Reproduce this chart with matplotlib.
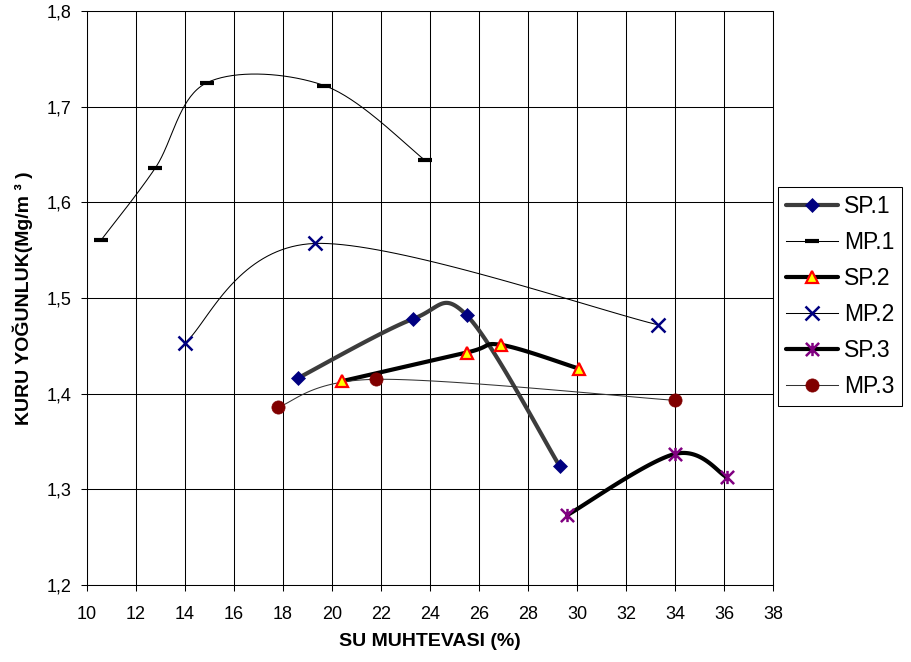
import numpy as np
import matplotlib
matplotlib.use('Agg')
import matplotlib.pyplot as plt
from matplotlib.lines import Line2D
from matplotlib.path import Path
from matplotlib.ticker import FuncFormatter

plt.rcParams['font.family'] = ['Liberation Sans', 'DejaVu Sans']

# su muhtevasi (%) / kuru yogunluk (Mg/m3)
sp1_x = [18.6, 23.3, 25.5, 29.3]
sp1_y = [1.416, 1.478, 1.482, 1.324]
mp1_x = [10.6, 12.8, 14.9, 19.7, 23.8]
mp1_y = [1.561, 1.636, 1.725, 1.722, 1.644]
sp2_x = [20.4, 25.5, 26.9, 30.1]
sp2_y = [1.413, 1.443, 1.451, 1.426]
mp2_x = [14.0, 19.3, 33.3]
mp2_y = [1.453, 1.557, 1.472]
sp3_x = [29.6, 34.0, 36.1]
sp3_y = [1.273, 1.337, 1.313]
mp3_x = [17.8, 21.8, 34.0]
mp3_y = [1.386, 1.415, 1.393]

names = ['SP.1', 'MP.1', 'SP.2', 'MP.2', 'SP.3', 'MP.3']

# asterisk marker like the excel "star"
star = Path([(0, -1), (0, 1), (-1, -1), (1, 1), (-1, 1), (1, -1)],
            [Path.MOVETO, Path.LINETO, Path.MOVETO, Path.LINETO, Path.MOVETO, Path.LINETO])


def smooth(xs, ys, n=40):
    # excel-like smoothed line (catmull-rom bezier through the points)
    p = np.column_stack([xs, ys]).astype(float)
    ext = np.vstack([p[0], p, p[-1]])
    t = np.linspace(0, 1, n)[:, None]
    out = [p[:1]]
    for i in range(len(p) - 1):
        p0, p3 = p[i], p[i + 1]
        c1 = p0 + (ext[i + 2] - ext[i]) / 6.0
        c2 = p3 - (ext[i + 3] - ext[i + 1]) / 6.0
        seg = ((1 - t) ** 3) * p0 + 3 * ((1 - t) ** 2) * t * c1 + 3 * (1 - t) * t ** 2 * c2 + t ** 3 * p3
        out.append(seg[1:])
    out = np.vstack(out)
    return out[:, 0], out[:, 1]


series = [
    (sp1_x, sp1_y, dict(color='#3c3c3c', lw=3.0, solid_capstyle='round'),
     dict(marker='D', ms=7, mfc='#000080', mec='#000080', mew=0.5)),
    (mp1_x, mp1_y, dict(color='black', lw=0.75),
     dict(marker='_', ms=10.3, mec='black', mew=3)),
    (sp2_x, sp2_y, dict(color='black', lw=3.0, solid_capstyle='round'),
     dict(marker='^', ms=8.5, mfc='#ffff00', mec='#ff0000', mew=1.6)),
    (mp2_x, mp2_y, dict(color='black', lw=0.75),
     dict(marker='x', ms=10, mec='#000080', mew=1.8)),
    (sp3_x, sp3_y, dict(color='black', lw=3.0, solid_capstyle='round'),
     dict(marker=star, ms=9.5, mfc='none', mec='#800080', mew=1.8)),
    (mp3_x, mp3_y, dict(color='#333333', lw=0.75),
     dict(marker='o', ms=9.5, mfc='#800000', mec='#800000', mew=0.5)),
]

fig = plt.figure(figsize=(9.11, 6.62), dpi=100)
ax = fig.add_axes([0.0952, 0.1163, 0.7534, 0.8671])

handles = []
for xs, ys, line_kw, mk_kw in series:
    sx, sy = smooth(xs, ys)
    ax.plot(sx, sy, zorder=3, **line_kw)
    ax.plot(xs, ys, ls='none', zorder=4, **mk_kw)
    handles.append(Line2D([], [], **line_kw, **mk_kw))

ax.set_xlim(10, 38)
ax.set_ylim(1.2, 1.8)
ax.set_xticks(np.arange(10, 39, 2))
ax.set_yticks(np.arange(1.2, 1.81, 0.1))
ax.yaxis.set_major_formatter(FuncFormatter(lambda v, p: f'{v:.1f}'.replace('.', ',')))
ax.grid(True, color='black', lw=0.75)
ax.set_axisbelow(True)
for s in ax.spines.values():
    s.set_linewidth(0.75)
ax.tick_params(direction='out', length=4.3, width=0.75, labelsize=13)
ax.tick_params(axis='x', pad=11)
ax.tick_params(axis='y', pad=6.5)

ax.set_xlabel('SU MUHTEVASI (%)', fontsize=14, fontweight='bold', labelpad=7)
ax.set_ylabel('KURU YOĞUNLUK(Mg/m ³ )', fontsize=14, fontweight='bold', labelpad=10)

leg = fig.legend(handles, names, loc='upper left', bbox_to_anchor=(0.854, 0.7175),
                 fontsize=16.5, frameon=True, fancybox=False, edgecolor='black',
                 framealpha=1, borderaxespad=0, handlelength=2.27, handletextpad=0.25,
                 borderpad=0.35, labelspacing=0.57, numpoints=1)
leg.get_frame().set_linewidth(0.75)

fig.savefig('out.png', dpi=100)
